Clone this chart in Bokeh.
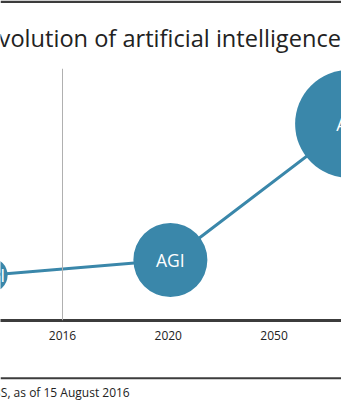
from bokeh.plotting import figure
from bokeh.layouts import column
from bokeh.models import Range1d, FixedTicker, Span, Label, ColumnDataSource
from bokeh.core.properties import value
from bokeh.embed import file_html
from bokeh.resources import INLINE

# ---- data ----
stages = ["ANI", "AGI", "ASI"]
stage_x = [0.32, 2.02, 3.71]          # position along the time axis (tick index units)
stage_level = [18, 24, 78]            # capability level
bubble_size = [34, 74, 108]           # bubble diameter
tick_pos = [1, 2, 3]
tick_labels = ["2016", "2020", "2050"]
today = 1                             # the "2016" marker line
title_text = "Evolution of artificial intelligence"
source_text = "Source: UBS, as of 15 August 2016"

BLUE = "#3a87aa"
DARK = "#3c3c3c"
TEXT = "#222222"
FONT = "Open Sans"
W = 341
TOP_H, MAIN_H, BOT_H = 68, 301, 31
FRAME_H = 252


def blank(h):
    f = figure(width=W, height=h, output_backend="svg", toolbar_location=None,
               x_range=Range1d(0, W), y_range=Range1d(h, 0),
               x_axis_location=None, y_axis_location=None,
               min_border=0, min_border_left=0, min_border_right=0,
               min_border_top=0, min_border_bottom=0)
    f.outline_line_color = None
    f.xgrid.visible = False
    f.ygrid.visible = False
    return f


# ---- title band ----
top = blank(TOP_H)
top.add_layout(Span(location=1.2, dimension="width", line_color=DARK, line_width=2.5))
top.add_layout(Label(x=-15, y=37, text=title_text, text_font=FONT,
                     text_font_size="23.6px", text_color=TEXT,
                     text_baseline="alphabetic"))

# ---- main chart ----
p = figure(width=W, height=MAIN_H, output_backend="svg", toolbar_location=None,
           x_range=Range1d(0.4137, 3.638), y_range=Range1d(0, 100),
           y_axis_location=None, min_border_left=0, min_border_right=0,
           min_border_top=0, min_border_bottom=MAIN_H - FRAME_H)
p.outline_line_color = None
p.xgrid.visible = False
p.ygrid.visible = False

ax = p.xaxis[0]
ax.ticker = FixedTicker(ticks=tick_pos)
ax.major_label_overrides = {t: l for t, l in zip(tick_pos, tick_labels)}
ax.axis_line_color = DARK
ax.axis_line_width = 3
ax.major_tick_line_color = None
ax.minor_tick_line_color = None
ax.major_tick_out = 0
ax.major_tick_in = 0
ax.major_label_standoff = 10
ax.major_label_text_font = FONT
ax.major_label_text_font_size = "12px"
ax.major_label_text_color = TEXT

p.add_layout(Span(location=today, dimension="height", line_color="#b0b0b0", line_width=1))

src = ColumnDataSource(dict(x=stage_x, y=stage_level, s=bubble_size, t=stages))
p.line("x", "y", source=src, line_color=BLUE, line_width=3)
p.scatter("x", "y", size="s", source=src, fill_color=BLUE, line_color=None)
p.text("x", "y", text="t", source=src, text_color="white", text_align="center",
       text_baseline="middle", text_font=value(FONT), text_font_size="17.5px")

# ---- source band ----
bot = blank(BOT_H)
bot.add_layout(Span(location=8.7, dimension="width", line_color=DARK, line_width=2))
bot.add_layout(Label(x=-61, y=22.8, text=source_text, text_font=FONT,
                     text_font_size="12px", text_color=TEXT,
                     text_baseline="alphabetic"))

layout = column(top, p, bot, spacing=0)
open("out.html", "w").write(file_html(layout, INLINE))
